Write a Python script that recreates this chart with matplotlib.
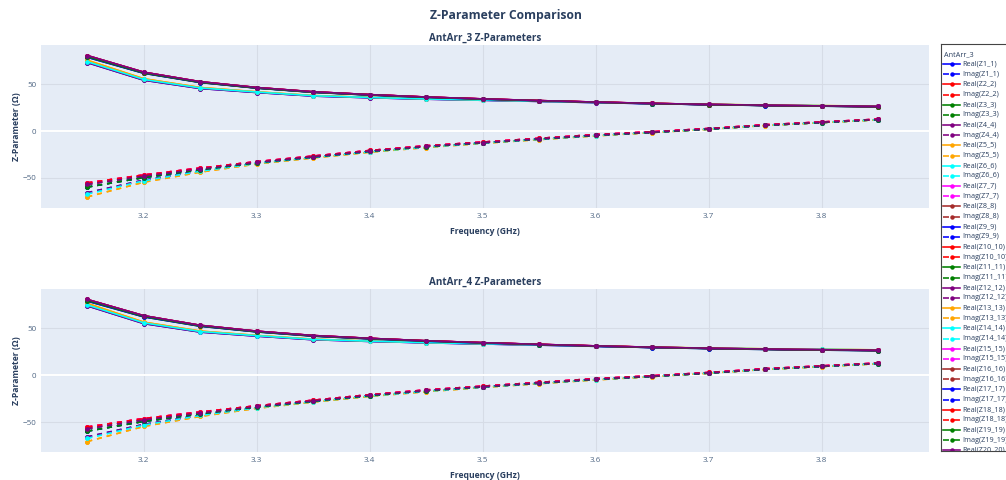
import matplotlib
matplotlib.use('Agg')
import matplotlib.pyplot as plt

plt.rcParams['font.family'] = ['Open Sans', 'DejaVu Sans']
plt.rcParams['lines.scale_dashes'] = False

# ---------------- data ----------------
freq_ghz = [3.15, 3.20, 3.25, 3.30, 3.35, 3.40, 3.45, 3.50, 3.55, 3.60, 3.65, 3.70, 3.75, 3.80, 3.85]
x_ticks = [3.2, 3.3, 3.4, 3.5, 3.6, 3.7, 3.8]
y_ticks = [-50, 0, 50]
port_colors = ['blue', 'red', 'green', 'purple', 'orange', 'cyan', 'magenta', 'brown']
array_names = ['AntArr_3', 'AntArr_4']

# AntArr_3 curves
a3_re_hi_a = [80.8, 63.0, 52.8, 46.6, 42.0, 39.0, 36.4, 34.4, 32.6, 31.0, 29.6, 28.5, 27.6, 26.9, 26.3]
a3_re_hi_b = [79.6, 62.2, 52.2, 46.1, 41.6, 38.7, 36.1, 34.1, 32.4, 30.8, 29.4, 28.3, 27.4, 26.7, 26.1]
a3_re_hi_c = [80.2, 62.6, 52.5, 46.4, 41.8, 38.9, 36.3, 34.3, 32.5, 30.9, 29.5, 28.4, 27.5, 26.8, 26.2]
a3_re_hi_d = [78.9, 61.8, 51.9, 45.9, 41.4, 38.5, 36.0, 34.0, 32.3, 30.7, 29.3, 28.2, 27.3, 26.6, 26.0]
a3_re_lo_a = [74.2, 55.2, 46.1, 41.7, 37.8, 35.9, 34.3, 33.1, 31.9, 30.6, 29.4, 28.5, 27.7, 27.1, 26.6]
a3_re_lo_b = [73.2, 54.4, 45.5, 41.2, 37.4, 35.6, 34.1, 32.9, 31.7, 30.4, 29.2, 28.3, 27.5, 26.9, 26.4]
a3_re_lo_c = [75.8, 56.0, 46.6, 42.0, 38.0, 36.0, 34.4, 33.2, 32.0, 30.7, 29.5, 28.6, 27.8, 27.2, 26.7]
a3_im_up_a = [-55.5, -47.0, -39.6, -32.8, -26.8, -20.8, -15.8, -11.8, -7.8, -3.8, -0.8, 2.7, 6.7, 9.7, 12.7]
a3_im_up_b = [-57.0, -48.2, -40.5, -33.4, -27.4, -21.4, -16.3, -12.3, -8.3, -4.3, -1.2, 2.3, 6.3, 9.4, 12.4]
a3_im_up_c = [-60.0, -49.8, -41.5, -34.0, -27.9, -21.8, -16.7, -12.6, -8.6, -4.6, -1.5, 2.0, 6.0, 9.1, 12.2]
a3_im_lo_a = [-67.5, -53.2, -43.0, -34.7, -28.3, -22.3, -17.3, -12.9, -8.9, -4.9, -1.4, 2.1, 6.1, 9.1, 12.1]
a3_im_lo_b = [-70.5, -54.8, -44.0, -35.3, -28.8, -22.7, -17.7, -13.2, -9.2, -5.2, -1.7, 1.9, 5.9, 8.9, 11.9]
a3_im_lo_c = [-66.0, -52.5, -42.6, -34.4, -28.0, -22.0, -17.0, -12.7, -8.7, -4.7, -1.2, 2.3, 6.3, 9.3, 12.3]

# AntArr_4 curves
a4_re_hi_a = [80.4, 63.2, 53.0, 46.8, 42.2, 39.2, 36.6, 34.6, 32.8, 31.2, 29.8, 28.7, 27.8, 27.1, 26.5]
a4_re_hi_b = [79.3, 62.4, 52.4, 46.3, 41.8, 38.9, 36.3, 34.3, 32.6, 31.0, 29.6, 28.5, 27.6, 26.9, 26.3]
a4_re_hi_c = [80.0, 62.8, 52.7, 46.6, 42.0, 39.1, 36.5, 34.5, 32.7, 31.1, 29.7, 28.6, 27.7, 27.0, 26.4]
a4_re_hi_d = [78.6, 61.9, 52.0, 46.0, 41.5, 38.6, 36.1, 34.1, 32.4, 30.8, 29.4, 28.3, 27.4, 26.7, 26.1]
a4_re_lo_a = [74.5, 55.6, 46.4, 42.0, 38.1, 36.2, 34.6, 33.4, 32.2, 30.9, 29.7, 28.8, 28.0, 27.4, 26.9]
a4_re_lo_b = [73.6, 54.8, 45.8, 41.5, 37.7, 35.9, 34.4, 33.2, 32.0, 30.7, 29.5, 28.6, 27.8, 27.2, 26.7]
a4_re_lo_c = [76.2, 56.4, 46.9, 42.3, 38.3, 36.3, 34.7, 33.5, 32.3, 31.0, 29.8, 28.9, 28.1, 27.5, 27.0]
a4_im_up_a = [-54.8, -45.8, -38.8, -32.3, -26.4, -20.5, -15.5, -11.5, -7.5, -3.5, -0.5, 3.0, 7.0, 10.0, 13.0]
a4_im_up_b = [-56.5, -47.2, -39.8, -33.0, -27.0, -21.0, -16.0, -12.0, -8.0, -4.0, -0.9, 2.6, 6.6, 9.7, 12.7]
a4_im_up_c = [-59.2, -48.9, -40.9, -33.6, -27.5, -21.5, -16.4, -12.3, -8.3, -4.3, -1.2, 2.3, 6.3, 9.4, 12.5]
a4_im_lo_a = [-66.8, -52.8, -42.6, -34.4, -28.0, -22.0, -17.0, -12.6, -8.6, -4.6, -1.1, 2.4, 6.4, 9.4, 12.4]
a4_im_lo_b = [-70.2, -54.2, -43.6, -35.0, -28.5, -22.4, -17.4, -12.9, -8.9, -4.9, -1.4, 2.2, 6.2, 9.2, 12.2]
a4_im_lo_c = [-65.2, -52.0, -42.2, -34.1, -27.7, -21.7, -16.7, -12.4, -8.4, -4.4, -0.9, 2.6, 6.6, 9.6, 12.6]

# per-port curves, ports Z1_1 .. Z20_20
a3_real = [a3_re_hi_c, a3_re_hi_a, a3_re_hi_b, a3_re_hi_c, a3_re_lo_c, a3_re_lo_a, a3_re_hi_b, a3_re_hi_a,
           a3_re_lo_b, a3_re_hi_b, a3_re_hi_d, a3_re_lo_b, a3_re_lo_c, a3_re_lo_a, a3_re_hi_a, a3_re_hi_a,
           a3_re_hi_d, a3_re_hi_c, a3_re_hi_b, a3_re_hi_a]
a3_imag = [a3_im_up_b, a3_im_up_a, a3_im_up_c, a3_im_up_b, a3_im_lo_b, a3_im_lo_a, a3_im_up_a, a3_im_up_b,
           a3_im_lo_c, a3_im_up_a, a3_im_up_c, a3_im_lo_c, a3_im_lo_b, a3_im_lo_a, a3_im_up_a, a3_im_up_b,
           a3_im_up_c, a3_im_up_a, a3_im_up_c, a3_im_up_b]
a4_real = [a4_re_hi_c, a4_re_hi_a, a4_re_hi_b, a4_re_hi_c, a4_re_lo_c, a4_re_lo_a, a4_re_hi_b, a4_re_hi_a,
           a4_re_lo_b, a4_re_hi_b, a4_re_hi_d, a4_re_lo_b, a4_re_lo_c, a4_re_lo_a, a4_re_hi_a, a4_re_hi_a,
           a4_re_hi_d, a4_re_hi_c, a4_re_hi_b, a4_re_hi_a]
a4_imag = [a4_im_up_b, a4_im_up_a, a4_im_up_c, a4_im_up_b, a4_im_lo_b, a4_im_lo_a, a4_im_up_a, a4_im_up_b,
           a4_im_lo_c, a4_im_up_a, a4_im_up_c, a4_im_lo_c, a4_im_lo_b, a4_im_lo_a, a4_im_up_a, a4_im_up_b,
           a4_im_up_c, a4_im_up_a, a4_im_up_c, a4_im_up_b]

# ---------------- style ----------------
W, H = 1006, 480
TXT = '#2a3f5f'
TICK = '#506784'
BG = '#e5ecf6'
GRID = '#d6dce6'
LW = 1.15
MS = 2.4
DASH = (0, (3.6, 3.6))

fig = plt.figure(figsize=(W / 100, H / 100), dpi=100)
fig.patch.set_facecolor('white')


def px_axes(left, top, right, bottom):
    return fig.add_axes([left / W, 1 - bottom / H, (right - left) / W, (bottom - top) / H])


panels = [
    (px_axes(41, 45, 929, 208), a3_real, a3_imag, (-82.4, 92.1)),
    (px_axes(41, 289, 929, 452), a4_real, a4_imag, (-81.3, 91.5)),
]

for k, (ax, reals, imags, ylim) in enumerate(panels):
    ax.set_facecolor(BG)
    for s in ax.spines.values():
        s.set_visible(False)
    ax.set_axisbelow(True)
    ax.grid(True, color=GRID, linewidth=0.8)
    ax.axhline(0, color='white', linewidth=1.4, zorder=1)
    for i in range(len(reals)):
        c = port_colors[i % len(port_colors)]
        ax.plot(freq_ghz, reals[i], color=c, linewidth=LW, marker='o', markersize=MS,
                solid_joinstyle='round', zorder=2)
        ax.plot(freq_ghz, imags[i], color=c, linewidth=LW, marker='o', markersize=MS,
                linestyle=DASH, dash_capstyle='butt', zorder=2)
    ax.set_xlim(3.109, 3.895)
    ax.set_ylim(*ylim)
    ax.set_xticks(x_ticks)
    ax.set_xticklabels([f'{v:.1f}' for v in x_ticks])
    ax.set_yticks(y_ticks)
    ax.set_yticklabels(['\u221250', '0', '50'])
    ax.tick_params(length=0, labelsize=5.8, labelcolor=TICK, pad=3.5)
    ax.set_xlabel('Frequency (GHz)', fontsize=6.2, fontweight='bold', color=TXT, labelpad=5)
    ax.set_ylabel('Z-Parameter (\u03a9)', fontsize=6.2, fontweight='bold', color=TXT, labelpad=1)
    ax.set_title(f'{array_names[k]} Z-Parameters', fontsize=7.1, fontweight='bold', color=TXT, pad=3)

fig.text(0.503, 1 - 15 / H, 'Z-Parameter Comparison', ha='center', va='center',
         fontsize=8.7, fontweight='bold', color=TXT)

# ---------------- legend (clipped, as in a scrolling legend box) ----------------
lg = px_axes(940.5, 44, 1012, 451)
lg.set_xlim(940.5, 1012)
lg.set_ylim(451, 44)
lg.set_xticks([])
lg.set_yticks([])
lg.set_facecolor('white')
for s in lg.spines.values():
    s.set_color('#444444')
    s.set_linewidth(0.8)
lg.text(943.5, 54.5, array_names[0], fontsize=5.2, color=TXT, va='center', ha='left', clip_on=True)
row = 0
for i in range(len(a3_real)):
    c = port_colors[i % len(port_colors)]
    for kind, ls in (('Real', '-'), ('Imag', (0, (4.3, 3.6)))):
        y = 64 + row * 10.17
        lg.plot([943, 960], [y, y], color=c, linewidth=LW, linestyle=ls,
                dash_capstyle='butt', clip_on=True)
        lg.plot([951.5], [y], color=c, marker='o', markersize=2.2, clip_on=True)
        lg.text(962, y, f'{kind}(Z{i + 1}_{i + 1})', fontsize=5.2, color=TXT,
                va='center', ha='left', clip_on=True)
        row += 1

fig.savefig('out.png', dpi=100)
